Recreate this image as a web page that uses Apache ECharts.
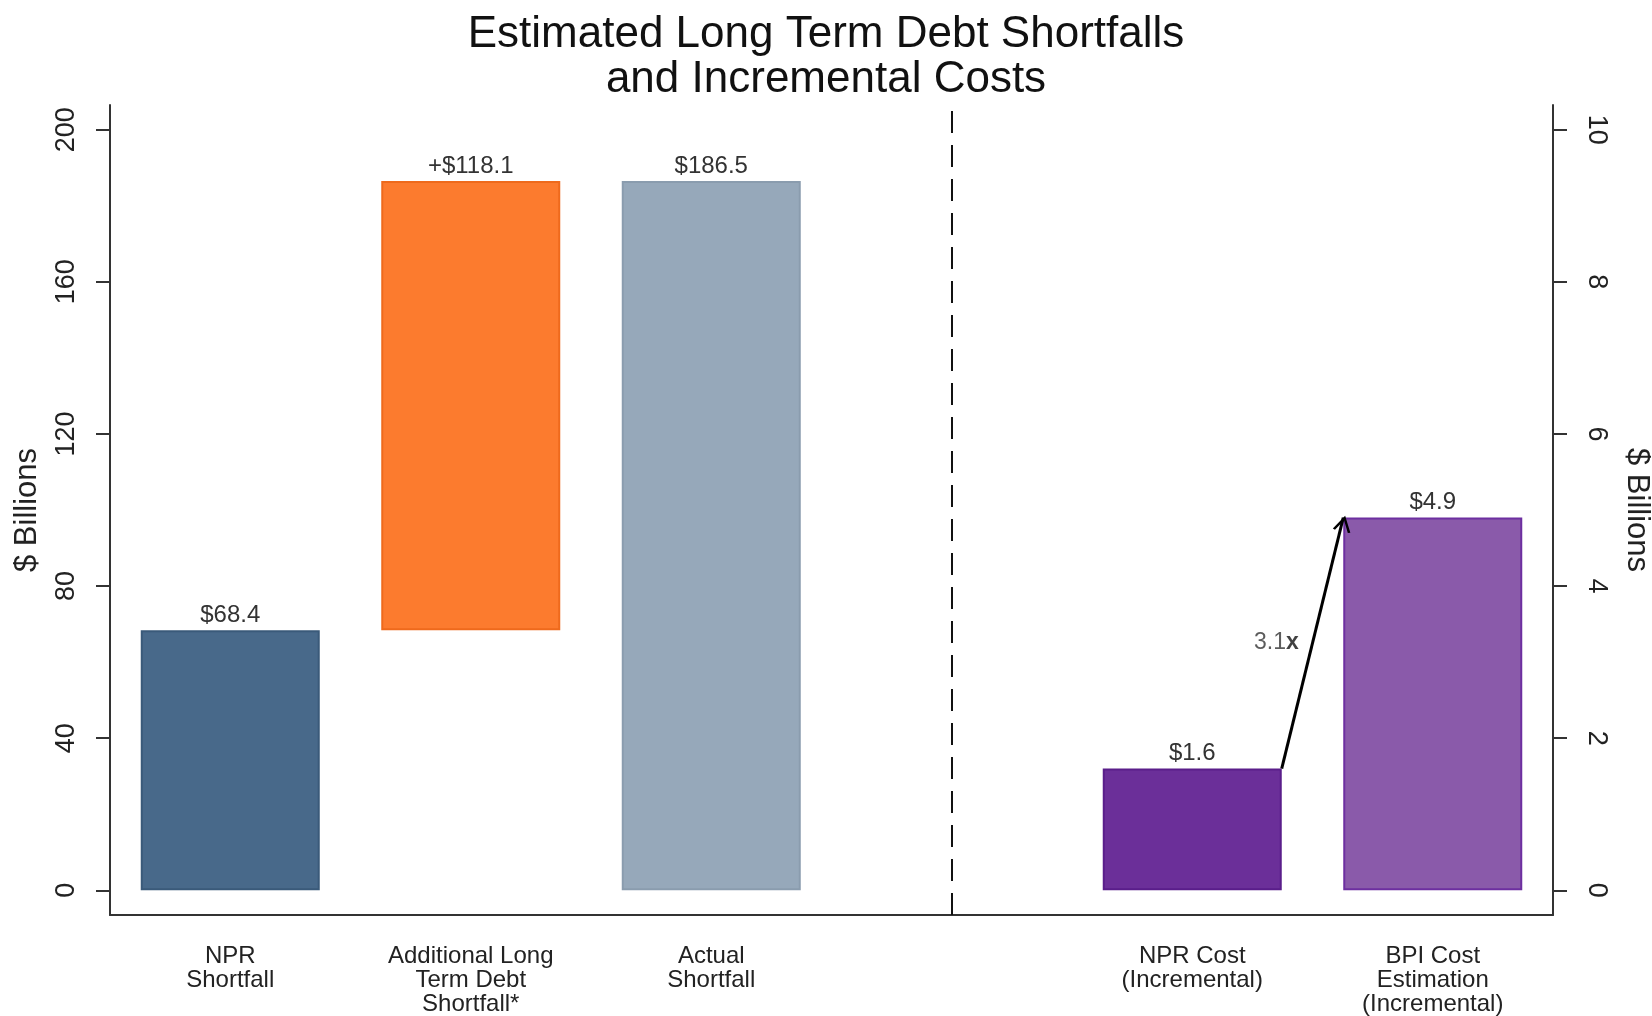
<!DOCTYPE html>
<html>
<head>
<meta charset="utf-8">
<script src="https://cdn.jsdelivr.net/npm/echarts@6/dist/echarts.min.js"></script>
<style>
  html, body { margin: 0; padding: 0; background: #fff; }
  #chart { width: 1652px; height: 1016px; }
</style>
</head>
<body>
<div id="chart"></div>
<script>
// categories (4th slot is the empty gap where the dashed divider sits)
var categories = ['NPR\nShortfall', 'Additional Long\nTerm Debt\nShortfall*', 'Actual\nShortfall', '',
                  'NPR Cost\n(Incremental)', 'BPI Cost\nEstimation\n(Incremental)'];
// left panel: waterfall of shortfalls ($ billions)
var shortfallBase = [0, 68.4, 0];
var shortfallValues = [68.4, 118.1, 186.5];
var shortfallLabels = ['$68.4', '+$118.1', '$186.5'];
// right panel: incremental costs ($ billions)
var costValues = [1.6, 4.9];
var costLabels = ['$1.6', '$4.9'];
var multipleText = '3.1';
// tick labels
var leftTicks = [0, 40, 80, 120, 160, 200];
var rightTicks = [0, 2, 4, 6, 8, 10];

var shortfallColors = ['#48698a', '#fc7b2e', '#96a8ba'];
var shortfallBorders = ['#3a5a7a', '#ee6a1c', '#8a9cae'];
var costColors = ['#6b2f99', '#8a5aaa'];
var costBorders = ['#5a1e8a', '#6d2fa0'];

var BAR_W = 179;
var font = 'Liberation Sans, Arial, sans-serif';

var chart = echarts.init(document.getElementById('chart'));

var baseData = categories.map(function (c, i) { return i < 3 ? shortfallBase[i] : '-'; });
var shortData = categories.map(function (c, i) {
  if (i >= 3) return '-';
  return {
    value: shortfallValues[i],
    itemStyle: { color: shortfallColors[i], borderColor: shortfallBorders[i], borderWidth: 2 }
  };
});
var costData = categories.map(function (c, i) {
  if (i < 4) return '-';
  return {
    value: costValues[i - 4],
    itemStyle: { color: costColors[i - 4], borderColor: costBorders[i - 4], borderWidth: 2 }
  };
});

// arrow from top-right corner of NPR cost bar to top-left corner of BPI bar
var halfBar = 0.372;
var arrowFrom = [4 + halfBar, costValues[0]];
var arrowTo = [5 - halfBar, costValues[1]];

var option = {
  backgroundColor: '#fff',
  animation: false,
  title: {
    text: 'Estimated Long Term Debt Shortfalls\nand Incremental Costs',
    left: 'center',
    top: 7,
    textStyle: { fontFamily: font, fontSize: 44, fontWeight: 'normal', color: '#111', lineHeight: 45 }
  },
  grid: { left: 110, right: 99, top: 105, bottom: 101, outerBoundsMode: 'none', containLabel: false },
  xAxis: [{
    type: 'category',
    data: categories,
    axisLine: { onZero: false, lineStyle: { color: '#333', width: 2 } },
    axisTick: {
      alignWithLabel: true, length: 13, lineStyle: { color: '#333', width: 2 },
      interval: function (i) { return i !== 3; }
    },
    axisLabel: { fontFamily: font, fontSize: 24, color: '#222', lineHeight: 24, margin: 29, interval: 0 }
  }, {
    type: 'value', min: -0.5, max: 5.5, show: false,
    axisLine: { onZero: false }
  }],
  yAxis: [{
    type: 'value',
    min: -6.5, max: 206.5,
    name: '$ Billions', nameLocation: 'middle', nameGap: 67, nameRotate: 90,
    nameTextStyle: { fontFamily: font, fontSize: 31, color: '#222' },
    splitLine: { show: false },
    axisLine: { show: true, onZero: false, lineStyle: { color: '#333', width: 2 } },
    axisTick: { show: true, length: 14, customValues: leftTicks, lineStyle: { color: '#333', width: 2 } },
    axisLabel: { fontFamily: font, fontSize: 27, color: '#222', rotate: 90, margin: 30, customValues: leftTicks }
  }, {
    type: 'value',
    min: -0.325, max: 10.325,
    position: 'right',
    name: '$ Billions', nameLocation: 'middle', nameGap: 68, nameRotate: -90,
    nameTextStyle: { fontFamily: font, fontSize: 31, color: '#222' },
    splitLine: { show: false },
    axisLine: { show: true, onZero: false, lineStyle: { color: '#333', width: 2 } },
    axisTick: { show: true, length: 14, customValues: rightTicks, lineStyle: { color: '#333', width: 2 } },
    axisLabel: { fontFamily: font, fontSize: 27, color: '#222', rotate: -90, margin: 30, customValues: rightTicks }
  }],
  series: [{
    name: 'base', type: 'bar', stack: 'w', barWidth: BAR_W, barGap: '-100%',
    data: baseData,
    itemStyle: { color: 'rgba(0,0,0,0)' },
    silent: true
  }, {
    name: 'shortfall', type: 'bar', stack: 'w', barWidth: BAR_W, barGap: '-100%',
    data: shortData,
    label: {
      show: true, position: 'top', distance: 3,
      fontFamily: font, fontSize: 24, color: '#333',
      formatter: function (p) { return shortfallLabels[p.dataIndex]; }
    },
    markLine: {
      silent: true, symbol: 'none', label: { show: false },
      lineStyle: { color: '#111', width: 2, type: [22, 12] },
      data: [{ xAxis: 3 }]
    }
  }, {
    name: 'cost', type: 'bar', yAxisIndex: 1, barWidth: BAR_W, barGap: '-100%',
    data: costData,
    label: {
      show: true, position: 'top', distance: 3,
      fontFamily: font, fontSize: 24, color: '#333',
      formatter: function (p) { return costLabels[p.dataIndex - 4]; }
    }
  }, {
    name: 'arrow', type: 'line', xAxisIndex: 1, yAxisIndex: 1,
    data: [arrowFrom, arrowTo],
    symbol: 'none',
    lineStyle: { color: '#000', width: 3 },
    markPoint: {
      silent: true,
      symbol: 'path://M0,12 L6,0 L12,12 L10.4,12.6 L6,3.6 L1.6,12.6 Z',
      symbolSize: [18, 16],
      symbolRotate: -13.6,
      symbolOffset: [0, 6],
      itemStyle: { color: '#000' },
      label: { show: false },
      data: [{ coord: arrowTo }]
    }
  }, {
    name: 'multiple', type: 'scatter', xAxisIndex: 1, yAxisIndex: 1,
    symbolSize: 0,
    data: [[4.35, 3.25]],
    label: {
      show: true, position: 'inside',
      formatter: '{a|' + multipleText + '}{b|x}',
      rich: {
        a: { fontFamily: font, fontSize: 23, color: '#333' },
        b: { fontFamily: font, fontSize: 23, color: '#111', fontWeight: 'bold' }
      }
    }
  }]
};

chart.setOption(option);
</script>
</body>
</html>
